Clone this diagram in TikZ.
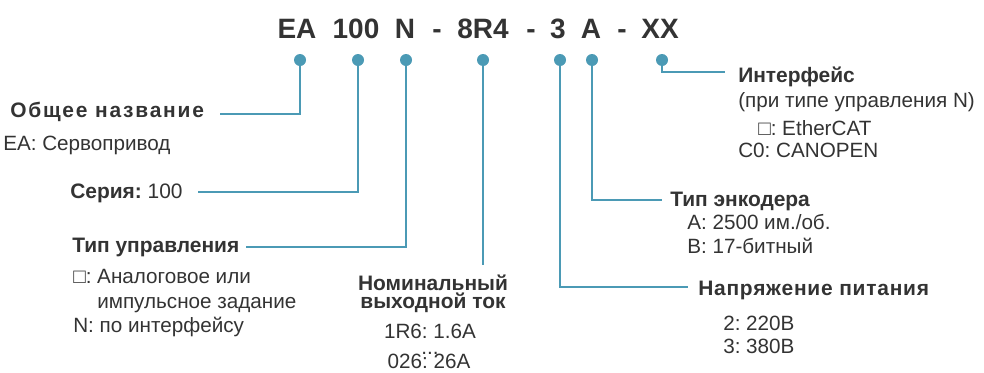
\documentclass[tikz,border=0pt]{standalone}
\usepackage{fontspec}
\setmainfont{Liberation Sans}
\frenchspacing
\definecolor{txt}{RGB}{51,51,51}
\definecolor{lnk}{RGB}{75,154,181}
\newcommand{\body}{\fontsize{15.5}{17}\selectfont}
\newcommand{\head}{\fontsize{15.7}{13.5}\selectfont\bfseries}
\newcommand{\code}{\fontsize{21}{24}\selectfont\bfseries}
\tikzset{
  dot/.style={circle,fill=lnk,inner sep=0pt,minimum size=9pt},
  link/.style={draw=lnk,line width=1.1pt},
  part/.style={anchor=base,inner sep=0pt,text=txt,font=\code},
  lab/.style={anchor=base west,inner sep=0pt,text=txt,font=\body},
  hd/.style={anchor=base west,inner sep=0pt,text=txt,font=\head}
}
\begin{document}
\begin{tikzpicture}[x=0.75pt,y=-0.75pt]
        \useasboundingbox (0,0) rectangle (984,372);
        % code line
        \node[part] at (297,38) (pEA) {EA};
        \node[part] at (356,38) (pSer) {100};
        \node[part] at (405,38) (pCtl) {N};
        \node[part] at (437,38) (m1) {-};
        \node[part] at (483,38) (pCur) {8R4};
        \node[part] at (531,38) (m2) {-};
        \node[part] at (558,38) (pVol) {3};
        \node[part] at (591,38) (pEnc) {A};
        \node[part] at (622,38) (m3) {-};
        \node[part] at (660,38) (pInt) {XX};
        % dots
        \node[dot] at (300,60) (dEA) {};
        \node[dot] at (358,60) (dSer) {};
        \node[dot] at (406,60) (dCtl) {};
        \node[dot] at (483,60) (dCur) {};
        \node[dot] at (560,60) (dVol) {};
        \node[dot] at (592,60) (dEnc) {};
        \node[dot] at (662,60) (dInt) {};
        % left labels
        \node[hd] at (10,117) (gen) {\addfontfeatures{LetterSpace=8.5}Общее название};
        \node[lab] at (3,150) (genA) {EA: Сервопривод};
        \node[hd] at (70,198) (ser) {Серия: \mdseries 100};
        \node[hd] at (72,252) (ctl) {Тип управления};
        \node[lab] at (73,283) (ctlA) {□: Аналоговое или};
        \node[lab] at (97,308) (ctlB) {импульсное задание};
        \node[lab] at (73,332) (ctlC) {N: по интерфейсу};
        % middle
        \node[hd,anchor=base,align=center] at (433,308) (cur) {Номинальный\\выходной ток};
        \node[lab,anchor=base,text depth=0pt] at (430,338) (curA) {1R6: 1.6A};
        \node[lab,anchor=base,text height=1.5pt,text depth=0pt] at (430,354) (curB) {...};
        \node[lab,anchor=base,text height=11pt,text depth=0pt] at (429,368) (curC) {026: 26A};
        % right labels
        \node[hd] at (738,82) (int) {Интерфейс};
        \node[lab] at (738,107) (intA) {(при типе управления N)};
        \node[lab] at (758,135) (intB) {□: EtherCAT};
        \node[lab] at (738,157) (intC) {C0: CANOPEN};
        \node[hd] at (670,206) (enc) {Тип энкодера};
        \node[lab] at (687,229) (encA) {A: 2500 им./об.};
        \node[lab] at (687,253) (encB) {B: 17-битный};
        \node[hd] at (698,295) (vol) {\addfontfeatures{LetterSpace=3.7}Напряжение питания};
        \node[lab] at (723,330) (volA) {2: 220В};
        \node[lab] at (723,353) (volB) {3: 380В};
        % connector ends
        \coordinate (eGen) at (220,114);
        \coordinate (eSer) at (198,192);
        \coordinate (eCtl) at (246,247);
        \coordinate (eCur) at (483,265);
        \coordinate (eVol) at (688,287);
        \coordinate (eEnc) at (662,200);
        \coordinate (eInt) at (725,72);
        \draw[link] (dEA) |- (eGen);
        \draw[link] (dSer) |- (eSer);
        \draw[link] (dCtl) |- (eCtl);
        \draw[link] (dCur) -- (eCur);
        \draw[link] (dVol) |- (eVol);
        \draw[link] (dEnc) |- (eEnc);
        \draw[link] (dInt) |- (eInt);
      \end{tikzpicture}
\end{document}
